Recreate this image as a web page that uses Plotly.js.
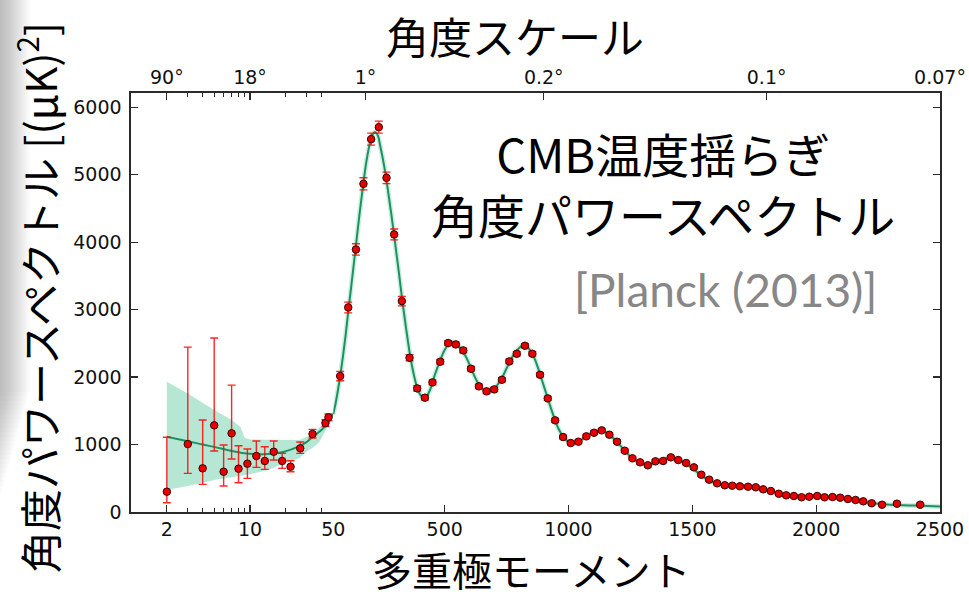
<!DOCTYPE html>
<html>
<head>
<meta charset="utf-8">
<script src="https://cdn.plot.ly/plotly-3.0.1.min.js"></script>
<style>html,body{margin:0;padding:0;background:#fff;}</style>
</head>
<body>
<div id="chart" style="width:969px;height:599px;"></div>
<script>
// ---- Data ----
// low-multipole (log-scaled part of the x axis)
const ellLow = [2, 3, 4, 5, 6, 7, 8, 9.5, 11.3, 13.3, 15.8, 18.6, 21.9, 26.4, 33.5, 43, 45.6];
const dLow = [301, 1007, 647, 1284, 597, 1166, 642, 716, 830, 756, 893, 756, 671, 943, 1156, 1318, 1403];
const errLowPlus = [806, 1437, 716, 1294, 396, 715, 341, 217, 222, 211, 159, 113, 89, 94, 69, 50, 50];
const errLowMinus = [163, 434, 237, 380, 212, 381, 208, 217, 168, 124, 123, 109, 74, 74, 60, 50, 50];

// high-multipole (linear part of the x axis)
const ellHigh = [78, 110.5, 141.6, 172, 203, 234, 265, 296, 327, 358, 389, 420, 450.7, 482, 514, 545, 575, 606, 638, 669, 700, 731, 761, 791, 824, 854, 885, 916, 946, 978, 1009, 1040, 1072, 1103, 1134, 1165, 1196, 1227, 1258, 1289, 1320, 1351, 1382, 1413, 1443, 1475, 1506, 1536, 1568, 1600, 1631, 1661, 1692, 1725, 1756, 1786, 1817, 1849, 1879, 1910, 1941, 1972, 2004, 2034, 2066, 2097, 2128, 2159, 2190, 2224, 2266, 2326, 2420];
const dHigh = [2015, 3032, 3891, 4864, 5526, 5704, 4953, 4114, 3126, 2286, 1832, 1694, 1921, 2227, 2504, 2484, 2395, 2123, 1862, 1788, 1817, 1960, 2232, 2345, 2464, 2345, 2034, 1684, 1358, 1111, 1022, 1042, 1121, 1175, 1210, 1145, 1042, 908, 795, 736, 692, 751, 756, 810, 770, 726, 662, 553, 479, 425, 396, 390, 381, 375, 366, 336, 311, 271, 247, 237, 218, 227, 237, 218, 222, 212, 193, 178, 158, 129, 108, 123, 108];
const errHigh = [70, 80, 85, 90, 90, 90, 85, 80, 70, 45, 40, 35, 35, 35, 35, 35, 35, 35, 32, 32, 32, 32, 32, 32, 32, 30, 30, 30, 28, 26, 25, 25, 25, 25, 25, 25, 25, 24, 24, 24, 24, 24, 24, 22, 22, 22, 22, 20, 20, 20, 20, 20, 20, 20, 20, 20, 20, 18, 18, 18, 18, 18, 18, 18, 18, 18, 18, 18, 18, 18, 18, 18, 18];

// best-fit model curve
const ellTheoryLow = [2, 3, 4, 5, 7, 10, 14, 19, 26, 30, 34, 40, 44, 46, 50];
const dTheoryLow = [1116, 1050, 1000, 965, 905, 862, 858, 890, 975, 1040, 1120, 1220, 1300, 1350, 1450];
const ellTheoryHigh = [50, 60, 70, 80, 90, 100, 110, 125, 140, 155, 170, 185, 200, 210, 220, 230, 240, 255, 270, 285, 300, 315, 330, 345, 360, 375, 390, 405, 418, 430, 445, 460, 480, 500, 520, 535, 550, 570, 590, 610, 630, 650, 670, 690, 710, 730, 750, 770, 790, 810, 825, 840, 860, 880, 900, 920, 940, 960, 980, 1000, 1020, 1040, 1060, 1080, 1100, 1120, 1135, 1150, 1170, 1190, 1210, 1230, 1250, 1270, 1290, 1310, 1330, 1350, 1370, 1390, 1410, 1430, 1450, 1470, 1490, 1510, 1530, 1550, 1570, 1590, 1610, 1630, 1660, 1690, 1720, 1750, 1780, 1810, 1840, 1870, 1900, 1930, 1960, 1990, 2020, 2060, 2100, 2140, 2180, 2220, 2260, 2300, 2350, 2400, 2450, 2500];
const dTheoryHigh = [1450, 1620, 1830, 2060, 2330, 2620, 2950, 3420, 3900, 4380, 4830, 5220, 5500, 5600, 5630, 5580, 5420, 5140, 4790, 4400, 3980, 3550, 3100, 2700, 2330, 2040, 1830, 1720, 1690, 1730, 1850, 2030, 2230, 2400, 2500, 2520, 2480, 2400, 2270, 2100, 1940, 1830, 1785, 1800, 1870, 1980, 2130, 2280, 2390, 2460, 2470, 2420, 2300, 2100, 1870, 1640, 1420, 1230, 1110, 1040, 1020, 1040, 1090, 1140, 1175, 1200, 1205, 1185, 1130, 1060, 980, 900, 820, 765, 730, 710, 710, 730, 760, 790, 805, 795, 770, 730, 680, 620, 560, 505, 465, 435, 412, 400, 392, 385, 375, 362, 342, 315, 285, 258, 240, 228, 225, 228, 228, 222, 208, 188, 163, 137, 118, 108, 100, 95, 88, 80];

// cosmic-variance band at low multipoles
const ellBand = [2, 3, 4, 5, 7, 8.3, 9, 10, 14, 18, 23.5, 26, 29.7, 34, 38, 44, 46, 50];
const bandHigh = [1931, 1758, 1620, 1511, 1363, 1264, 1100, 1076, 1070, 1067, 1067, 1067, 1110, 1170, 1250, 1350, 1400, 1500];
const bandLow = [326, 385, 430, 474, 520, 540, 548, 560, 620, 700, 770, 800, 894, 960, 1030, 1230, 1300, 1420];

// tick labels
const bottomLowTicks = [2, 10, 50];
const bottomLowLabels = ['2', '10', '50'];
const bottomHighTicks = [500, 1000, 1500, 2000, 2500];
const bottomHighLabels = ['500', '1000', '1500', '2000', '2500'];
const topLowTicks = [2, 10];
const topLowLabels = ['90°', '18°'];
const topHighTicks = [180, 900, 1800, 2500];
const topHighLabels = ['1°', '0.2°', '0.1°', '0.07°'];
const minorLogTicks = [3, 4, 5, 6, 7, 8, 9, 20, 30, 40];
const yTicks = [0, 1000, 2000, 3000, 4000, 5000, 6000];

// ---- styles ----
const bandFill = 'rgba(110,208,170,0.5)';
const lineGreen = '#1c9262';
const errColor = 'rgba(255,0,0,0.85)';
const markerStyle = {color: '#e80000', size: 7.5, line: {color: '#3a0000', width: 1}};

const traces = [
  {x: ellBand, y: bandHigh, xaxis: 'x', yaxis: 'y', mode: 'lines', line: {width: 0, color: bandFill}, hoverinfo: 'skip'},
  {x: ellBand, y: bandLow, xaxis: 'x', yaxis: 'y', mode: 'lines', line: {width: 0, color: bandFill}, fill: 'tonexty', fillcolor: bandFill, hoverinfo: 'skip'},
  {x: ellTheoryHigh, y: dTheoryHigh, xaxis: 'x2', yaxis: 'y2', mode: 'lines', line: {width: 5, color: 'rgba(110,208,170,0.35)', shape: 'spline', smoothing: 1}, hoverinfo: 'skip'},
  {x: ellTheoryLow, y: dTheoryLow, xaxis: 'x', yaxis: 'y', mode: 'lines', line: {width: 2, color: lineGreen, shape: 'spline', smoothing: 1}},
  {x: ellTheoryHigh, y: dTheoryHigh, xaxis: 'x2', yaxis: 'y2', mode: 'lines', line: {width: 2, color: lineGreen, shape: 'spline', smoothing: 1}},
  {x: ellLow, y: dLow, xaxis: 'x', yaxis: 'y', mode: 'markers', marker: markerStyle,
   error_y: {type: 'data', symmetric: false, array: errLowPlus, arrayminus: errLowMinus, color: errColor, thickness: 1.4, width: 4}},
  {x: ellHigh, y: dHigh, xaxis: 'x2', yaxis: 'y2', mode: 'markers', marker: markerStyle,
   error_y: {type: 'data', array: errHigh, color: errColor, thickness: 1.3, width: 4}},
  {x: [], y: [], xaxis: 'x3', yaxis: 'y', mode: 'markers', hoverinfo: 'skip'},
  {x: [], y: [], xaxis: 'x4', yaxis: 'y2', mode: 'markers', hoverinfo: 'skip'}
];

const L = 131, R = 940, T = 93, B = 512;
const px = v => (v - L) / (R - L);
const py = v => (B - v) / (B - T);

const axCommon = {
  showgrid: false, zeroline: false, showline: true, linecolor: '#2a2a2a', linewidth: 1.6,
  ticks: 'inside', ticklen: 7, tickwidth: 1.2, tickcolor: '#2a2a2a',
  tickfont: {family: 'DejaVu Sans', size: 19, color: '#111'}, fixedrange: true
};
const minorLog = {tickmode: 'array', tickvals: minorLogTicks, ticks: 'inside', ticklen: 4, tickwidth: 1, tickcolor: '#2a2a2a', showgrid: false};
const logRange = [0, Math.log10(50)];

// soft grey slide shadow along the left edge
const shapes = [];
for (let i = 1; i <= 24; i++) {
  shapes.push({
    type: 'rect', xref: 'paper', yref: 'paper', layer: 'below',
    x0: px(0), x1: px(i * 1.25), y0: py(500 - i * 4.5), y1: py(0),
    fillcolor: 'rgba(100,100,100,0.02)', line: {width: 0}
  });
}

const cjk = '"Noto Sans CJK JP", sans-serif';
const layout = {
  width: 969, height: 599,
  margin: {l: L, r: 969 - R, t: T, b: 599 - B, autoexpand: false},
  paper_bgcolor: '#ffffff', plot_bgcolor: 'rgba(0,0,0,0)',
  showlegend: false,
  xaxis: Object.assign({}, axCommon, {domain: [0, 0.25], type: 'log', range: logRange, anchor: 'y',
    tickmode: 'array', tickvals: bottomLowTicks, ticktext: bottomLowLabels, minor: minorLog}),
  xaxis2: Object.assign({}, axCommon, {domain: [0.25, 1], range: [50, 2500], anchor: 'y2',
    tickmode: 'array', tickvals: bottomHighTicks, ticktext: bottomHighLabels}),
  xaxis3: Object.assign({}, axCommon, {overlaying: 'x', side: 'top', type: 'log', range: logRange, anchor: 'y',
    tickmode: 'array', tickvals: topLowTicks, ticktext: topLowLabels,
    minor: Object.assign({}, minorLog, {tickvals: minorLogTicks.concat([50])})}),
  xaxis4: Object.assign({}, axCommon, {overlaying: 'x2', side: 'top', range: [50, 2500], anchor: 'y2',
    tickmode: 'array', tickvals: topHighTicks, ticktext: topHighLabels}),
  yaxis: Object.assign({}, axCommon, {range: [0, 6210], anchor: 'x', tickmode: 'array', tickvals: yTicks,
    ticklabelstandoff: 4}),
  yaxis2: Object.assign({}, axCommon, {range: [0, 6210], overlaying: 'y', side: 'right', anchor: 'x2',
    tickmode: 'array', tickvals: yTicks, showticklabels: false}),
  shapes: shapes,
  annotations: [
    {text: '角度スケール', x: px(515), y: py(35), xref: 'paper', yref: 'paper', showarrow: false,
     xanchor: 'center', yanchor: 'middle', font: {family: cjk, size: 43, color: '#000'}},
    {text: '多重極モーメント', x: px(531), y: py(569), xref: 'paper', yref: 'paper', showarrow: false,
     xanchor: 'center', yanchor: 'middle', borderpad: 0, font: {family: cjk, size: 40, color: '#000'}},
    {text: '角度パワースペクトル [(μK)<sup>2</sup>]', x: px(37), y: py(298), xref: 'paper', yref: 'paper', showarrow: false,
     textangle: -90, xanchor: 'center', yanchor: 'middle', font: {family: cjk, size: 42, color: '#000'}},
    {text: 'CMB温度揺らぎ<br>角度パワースペクトル', x: px(663), y: py(183), xref: 'paper', yref: 'paper', showarrow: false,
     align: 'center', xanchor: 'center', yanchor: 'middle', borderpad: 0, font: {family: cjk, size: 47, color: '#000'}},
    {text: '[Planck (2013)]', x: px(725), y: py(289), xref: 'paper', yref: 'paper', showarrow: false,
     xanchor: 'center', yanchor: 'middle', borderpad: 0, font: {family: 'Lato, "Open Sans", sans-serif', size: 46, color: '#878787'}}
  ]
};

Plotly.newPlot('chart', traces, layout, {staticPlot: true, displayModeBar: false});
</script>
</body>
</html>
